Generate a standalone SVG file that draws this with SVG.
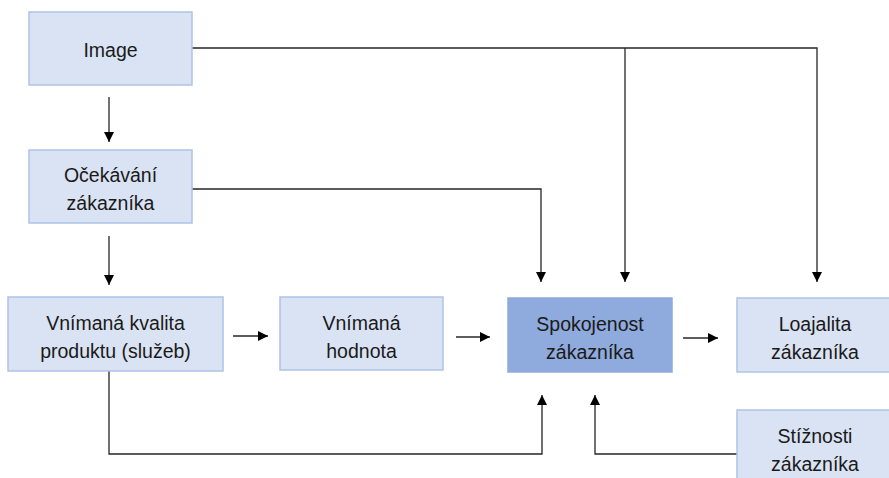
<svg xmlns="http://www.w3.org/2000/svg" width="889" height="478" viewBox="0 0 889 478">
<style>
.box{fill:#DAE3F3;stroke:#AFC3E6;stroke-width:1.5}
.dark{fill:#8FAADC;stroke:#8FAADC;stroke-width:1.5}
.t{font-family:"Liberation Sans",Arial,sans-serif;font-size:19.5px;fill:#1a1a1a;text-anchor:middle}
.c{fill:none;stroke:#262626;stroke-width:1.3}
</style>
<defs>
<marker id="ah" viewBox="0 0 10 10" refX="10" refY="5" markerWidth="10" markerHeight="10" markerUnits="userSpaceOnUse" orient="auto">
<path d="M0,0 L10,5 L0,10 Z" fill="#000"/>
</marker>
</defs>
<rect width="889" height="478" fill="#fff"/>
<g id="connectors">
<path class="c" d="M109,97 V142" marker-end="url(#ah)"/>
<path class="c" d="M109,236 V285" marker-end="url(#ah)"/>
<path class="c" d="M233,336 H268" marker-end="url(#ah)"/>
<path class="c" d="M456,337 H490" marker-end="url(#ah)"/>
<path class="c" d="M683,338 H718" marker-end="url(#ah)"/>
<path class="c" d="M192,48 H817 V282" marker-end="url(#ah)"/>
<path class="c" d="M625,48 V282" marker-end="url(#ah)"/>
<path class="c" d="M192,189 H541 V282" marker-end="url(#ah)"/>
<path class="c" d="M109,371 V454 H542 V395" marker-end="url(#ah)"/>
<path class="c" d="M737,454 H595 V395" marker-end="url(#ah)"/>
</g>
<g id="image">
<rect class="box" x="29" y="12" width="163" height="73"/>
<text class="t" x="110.5" y="57">Image</text>
</g>
<g id="ocekavani">
<rect class="box" x="29" y="150" width="163" height="73"/>
<text class="t" x="110.5" y="182">Očekávání</text>
<text class="t" x="110.5" y="210">zákazníka</text>
</g>
<g id="kvalita">
<rect class="box" x="8" y="297" width="215" height="74"/>
<text class="t" x="115.5" y="330">Vnímaná kvalita</text>
<text class="t" x="115.5" y="358">produktu (služeb)</text>
</g>
<g id="hodnota">
<rect class="box" x="280" y="297" width="163" height="73"/>
<text class="t" x="361.5" y="330">Vnímaná</text>
<text class="t" x="361.5" y="358">hodnota</text>
</g>
<g id="spokojenost">
<rect class="dark" x="508" y="298" width="164" height="74"/>
<text class="t" x="590" y="331">Spokojenost</text>
<text class="t" x="590" y="359">zákazníka</text>
</g>
<g id="loajalita">
<rect class="box" x="737" y="298" width="160" height="74"/>
<text class="t" x="815" y="331">Loajalita</text>
<text class="t" x="815" y="359">zákazníka</text>
</g>
<g id="stiznosti">
<rect class="box" x="737" y="410" width="160" height="80"/>
<text class="t" x="815" y="443">Stížnosti</text>
<text class="t" x="815" y="471">zákazníka</text>
</g>
</svg>
